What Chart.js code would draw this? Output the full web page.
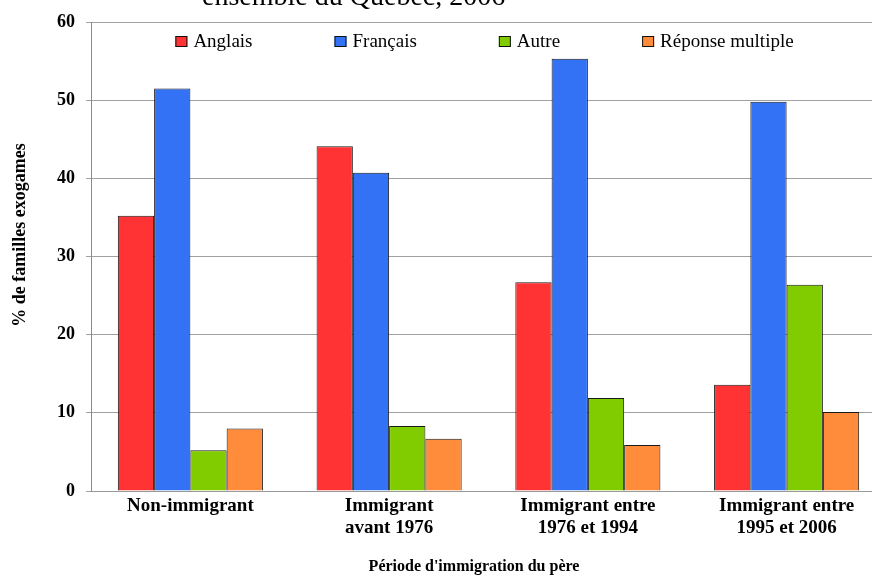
<!DOCTYPE html>
<html>
<head>
<meta charset="utf-8">
<script src="https://cdn.jsdelivr.net/npm/chart.js@4.4.1/dist/chart.umd.min.js"></script>
<style>
  html, body { margin: 0; padding: 0; overflow: hidden; background: #ffffff; }
  #wrap { position: relative; width: 890px; height: 576px; }
</style>
</head>
<body>
<div id="wrap"><canvas id="chart" width="890" height="576"></canvas></div>
<script>
// Period of immigration of the father (x categories)
const categories = [
  ["Non-immigrant"],
  ["Immigrant", "avant 1976"],
  ["Immigrant entre", "1976 et 1994"],
  ["Immigrant entre", "1995 et 2006"]
];

// Share of exogamous families (%) by language spoken
const anglais  = [35.2, 44.1, 26.7, 13.6];
const francais = [51.5, 40.7, 55.3, 49.8];
const autre    = [5.2, 8.3, 11.9, 26.4];
const multiple = [8.0, 6.7, 5.9, 10.1];

const seriesNames = ["Anglais", "Français", "Autre", "Réponse multiple"];
const yTicks = [0, 10, 20, 30, 40, 50, 60];

const titleText = "ensemble du Québec, 2006";
const yTitle = "% de familles exogames";
const xTitle = "Période d'immigration du père";

const SERIF = "'Liberation Serif', 'Times New Roman', serif";
const colors = ["#FF3333", "#3372F5", "#80CC00", "#FF8C3A"];

// Heading, axis titles and an in-plot legend
const decorations = {
  id: "decorations",
  afterDraw(chart) {
    const ctx = chart.ctx;
    const area = chart.chartArea;
    ctx.save();
    ctx.fillStyle = "#000";

    // heading (last line of the figure title)
    ctx.font = "28px " + SERIF;
    ctx.textAlign = "left";
    ctx.textBaseline = "alphabetic";
    ctx.fillText(titleText, 202, 5);

    // y axis title
    ctx.save();
    ctx.translate(20, 235);
    ctx.rotate(-Math.PI / 2);
    ctx.font = "bold 18px " + SERIF;
    ctx.textAlign = "center";
    ctx.textBaseline = "middle";
    ctx.fillText(yTitle, 0, 0);
    ctx.restore();

    // x axis title
    ctx.font = "bold 16px " + SERIF;
    ctx.textAlign = "center";
    ctx.textBaseline = "alphabetic";
    ctx.fillText(xTitle, 474, 571);

    // legend
    ctx.font = "19px " + SERIF;
    const box = 12, gapText = 6, gapItem = 82;
    const ds = chart.data.datasets;
    const widths = ds.map(d => ctx.measureText(d.label).width);
    let total = 0;
    widths.forEach((w, i) => { total += box + gapText + w + (i < widths.length - 1 ? gapItem : 0); });
    let x = (area.left + area.right) / 2 - total / 2 - 4;
    const yBox = 36;
    ctx.textAlign = "left";
    ds.forEach((d, i) => {
      ctx.fillStyle = d.backgroundColor;
      ctx.fillRect(x, yBox, box, 11);
      ctx.strokeStyle = "#111";
      ctx.lineWidth = 1;
      ctx.strokeRect(x + 0.5, yBox + 0.5, box - 1, 10);
      ctx.fillStyle = "#000";
      ctx.fillText(d.label, x + box + gapText, 47);
      x += box + gapText + widths[i] + gapItem;
    });
    ctx.restore();
  }
};

const seriesValues = [anglais, francais, autre, multiple];

new Chart(document.getElementById("chart"), {
  type: "bar",
  data: {
    labels: categories,
    datasets: seriesValues.map((vals, i) => ({
      label: seriesNames[i],
      data: vals,
      backgroundColor: colors[i],
      borderColor: "#1a1a1a",
      borderWidth: 1,
      categoryPercentage: 0.73,
      barPercentage: 1.0
    }))
  },
  options: {
    responsive: false,
    animation: false,
    devicePixelRatio: 1,
    layout: { padding: { left: 0, right: 4, top: 22, bottom: 0 } },
    plugins: {
      legend: { display: false },
      title: { display: false },
      tooltip: { enabled: false }
    },
    scales: {
      x: {
        grid: { display: false, drawTicks: false },
        border: { display: true, color: "#9a9a9a", width: 1 },
        ticks: {
          autoSkip: false,
          maxRotation: 0,
          padding: 4,
          color: "#000",
          font: { family: SERIF, size: 19, weight: "bold", lineHeight: 1.15 }
        },
        afterFit(scale) { scale.height = 85; }
      },
      y: {
        min: 0,
        max: 60,
        afterBuildTicks(scale) { scale.ticks = yTicks.map(v => ({ value: v })); },
        grid: { color: "#a0a0a0", lineWidth: 1, tickLength: 5, drawTicks: true },
        border: { display: true, color: "#8a8a8a", width: 1 },
        ticks: {
          padding: 11,
          color: "#000",
          font: { family: SERIF, size: 18, weight: "bold" }
        },
        afterFit(scale) { scale.width = 91; }
      }
    }
  },
  plugins: [decorations]
});
</script>
</body>
</html>
